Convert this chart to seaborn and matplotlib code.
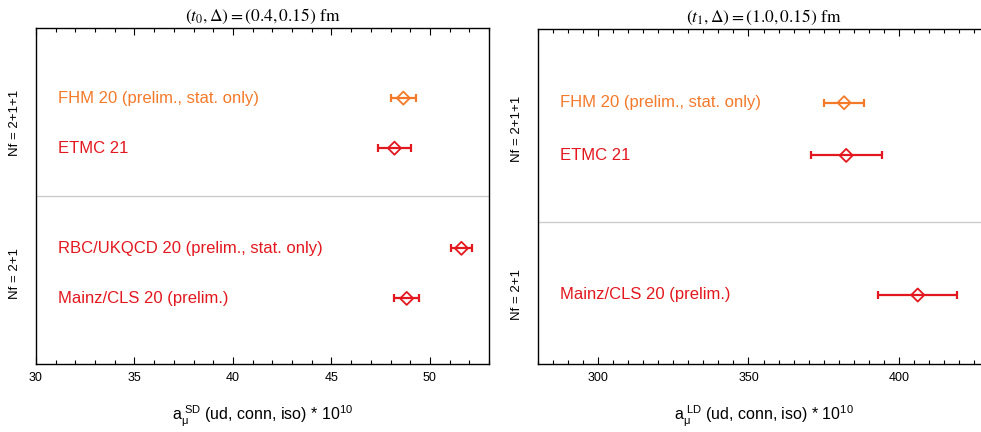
import matplotlib
matplotlib.use("Agg")
import matplotlib.pyplot as plt
import matplotlib.transforms as mtransforms
from matplotlib.ticker import MultipleLocator
import numpy as np
import pandas as pd
import seaborn as sns

# short-distance window
sd_labels = ["FHM 20 (prelim., stat. only)", "ETMC 21",
             "RBC/UKQCD 20 (prelim., stat. only)", "Mainz/CLS 20 (prelim.)"]
sd_groups = ["Nf = 2+1+1", "Nf = 2+1+1", "Nf = 2+1", "Nf = 2+1"]
sd_values = [48.65, 48.2, 51.6, 48.82]
sd_errors = [0.64, 0.83, 0.54, 0.63]

# long-distance window
ld_labels = ["FHM 20 (prelim., stat. only)", "ETMC 21", "Mainz/CLS 20 (prelim.)"]
ld_groups = ["Nf = 2+1+1", "Nf = 2+1+1", "Nf = 2+1"]
ld_values = [381.8, 382.5, 406.3]
ld_errors = [6.7, 11.8, 13.2]

collab_colors = {"FHM": "#F47A2A", "ETMC": "#E3181E", "RBC/UKQCD": "#E3181E",
                 "Mainz/CLS": "#E3181E"}

sns.set_theme(style="ticks")
plt.rcParams["font.family"] = ["Liberation Sans", "DejaVu Sans"]
plt.rcParams["mathtext.fontset"] = "custom"
plt.rcParams["mathtext.rm"] = "Liberation Sans"
plt.rcParams["mathtext.it"] = "Liberation Sans:italic"
plt.rcParams["text.color"] = "black"
plt.rcParams["axes.labelcolor"] = "black"
plt.rcParams["xtick.color"] = "black"
plt.rcParams["xtick.labelcolor"] = "black"


def forest(ax, labels, groups, values, errors, group_gap, title, xlabel,
           xlim, major, minor):
    # row positions: one unit per entry, extra gap between groups
    ypos, y, sep = [], 0.0, []
    for i, g in enumerate(groups):
        if i > 0 and g != groups[i - 1]:
            sep.append(ypos[-1] + 0.48 * group_gap)
            y = ypos[-1] + group_gap
        elif i > 0:
            y = ypos[-1] + 1
        ypos.append(y)
    df = pd.DataFrame({"label": labels, "group": groups, "value": values,
                       "err": errors, "y": ypos})
    df["collab"] = df["label"].str.split(" ").str[0]
    cols = [collab_colors[c] for c in df["collab"]]

    for _, r in df.iterrows():
        c = collab_colors[r["collab"]]
        ax.errorbar(r["value"], r["y"], xerr=r["err"], fmt="none", ecolor=c,
                    elinewidth=1.6, capsize=3, capthick=1.6, zorder=2)
    sns.scatterplot(data=df, x="value", y="y", hue="collab",
                    palette=collab_colors, marker="D", s=44, legend=False,
                    ax=ax, zorder=3)
    coll = ax.collections[-1]
    coll.set_edgecolors(cols)
    coll.set_facecolors("none")
    coll.set_linewidths(1.3)

    trans = mtransforms.blended_transform_factory(ax.transAxes, ax.transData)
    for _, r in df.iterrows():
        ax.text(0.048, r["y"], r["label"], transform=trans, ha="left",
                va="center", fontsize=12, color=collab_colors[r["collab"]])
    for g in dict.fromkeys(groups):
        ym = df.loc[df["group"] == g, "y"].mean()
        ax.text(-0.047, ym, g, transform=trans, rotation=90, ha="center",
                va="center", fontsize=9.5, color="black")
    for s in sep:
        ax.axhline(s, color="#cccccc", lw=1, zorder=1)

    ax.set_ylim(ypos[-1] + 1.31, -1.4)
    ax.set_xlim(*xlim)
    ax.set_yticks([])
    ax.set_ylabel("")
    ax.xaxis.set_major_locator(MultipleLocator(major))
    ax.xaxis.set_minor_locator(MultipleLocator(minor))
    ax.tick_params(axis="x", which="both", direction="in", top=True,
                   bottom=True, labelsize=9, pad=6, width=0.8, color="black",
                   labelcolor="black")
    ax.tick_params(axis="x", which="major", length=5)
    ax.tick_params(axis="x", which="minor", length=3)
    for sp in ax.spines.values():
        sp.set_visible(True)
        sp.set_color("black")
        sp.set_linewidth(1.0)
    ax.set_title(title, fontsize=12.5, pad=5, math_fontfamily="stix",
                 color="black")
    ax.set_xlabel(xlabel, fontsize=11.5, labelpad=14, color="black")


fig = plt.figure(figsize=(9.81, 4.32), dpi=100)
ax1 = fig.add_axes([36 / 981, 68 / 432, 453 / 981, 336 / 432])
ax2 = fig.add_axes([538 / 981, 68 / 432, 451 / 981, 335 / 432])

forest(ax1, sd_labels, sd_groups, sd_values, sd_errors, 2.0,
       r"$\left(t_0,\Delta\right)=\left(0.4,0.15\right)\ \mathrm{fm}$",
       r"a$_{\mathrm{μ}}^{\ \mathrm{SD}}$ (ud, conn, iso) * 10$^{10}$",
       (30, 53), 5, 1)
forest(ax2, ld_labels, ld_groups, ld_values, ld_errors, 2.65,
       r"$\left(t_1,\Delta\right)=\left(1.0,0.15\right)\ \mathrm{fm}$",
       r"a$_{\mathrm{μ}}^{\ \mathrm{LD}}$ (ud, conn, iso) * 10$^{10}$",
       (280, 430), 50, 5)

fig.savefig("out.png", dpi=100)
